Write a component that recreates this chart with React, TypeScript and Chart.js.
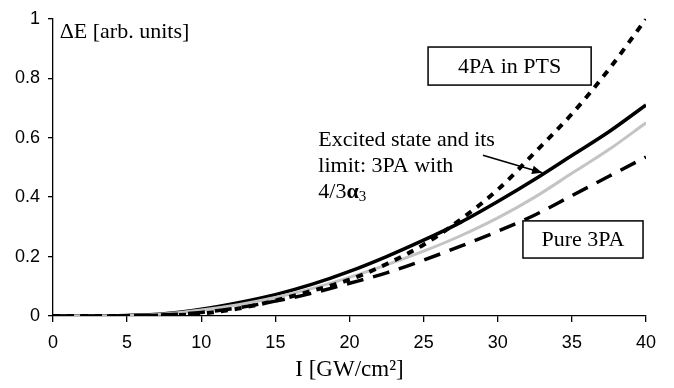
import React, { useEffect, useRef } from "react";
import { Chart, registerables } from "chart.js";

Chart.register(...registerables);

const intensity = [0, 2.5, 5, 7.5, 10, 12.5, 15, 17.5, 20, 22.5, 25, 27.5, 30, 32.5, 35, 37.5, 40];
const excitedState = [0, 0, 0.002, 0.008, 0.023, 0.045, 0.072, 0.107, 0.15, 0.2, 0.255, 0.315, 0.385, 0.46, 0.54, 0.62, 0.71];
const limit3PA = [0, 0, 0.002, 0.007, 0.02, 0.038, 0.062, 0.093, 0.13, 0.172, 0.218, 0.27, 0.33, 0.4, 0.48, 0.56, 0.65];
const pure3PA = [0, 0, 0.001, 0.004, 0.012, 0.028, 0.05, 0.077, 0.11, 0.145, 0.188, 0.235, 0.285, 0.34, 0.405, 0.47, 0.535];
const fourPA = [0, 0, 0, 0.002, 0.008, 0.025, 0.052, 0.085, 0.122, 0.175, 0.24, 0.325, 0.425, 0.55, 0.68, 0.83, 1.0];
const xTicksStep = 5;
const yTicksStep = 0.2;

const SERIF = "'Liberation Serif', 'Times New Roman', serif";
const SANS = "'Liberation Sans', Arial, sans-serif";
const TEXT_SIZE = 22;

const pts = (ys: number[]) => intensity.map((x, i) => ({ x, y: ys[i] }));

const annotationPlugin = {
  id: "annotations",
  afterDatasetsDraw(chart: any) {
    const { ctx, scales } = chart;
    const px = (v: number) => scales.x.getPixelForValue(v);
    const py = (v: number) => scales.y.getPixelForValue(v);
    ctx.save();
    ctx.fillStyle = "#000";
    ctx.strokeStyle = "#000";
    ctx.textBaseline = "middle";
    ctx.font = `${TEXT_SIZE}px ${SERIF}`;

    // y label
    ctx.textAlign = "left";
    ctx.fillText("ΔE [arb. units]", px(0.45), py(0.955));

    // boxes
    const box = (x0: number, x1: number, y0: number, y1: number, text: string) => {
      const l = px(x0), r = px(x1), t = py(y0), b = py(y1);
      ctx.fillStyle = "#fff";
      ctx.fillRect(l, t, r - l, b - t);
      ctx.lineWidth = 1.5;
      ctx.strokeRect(l, t, r - l, b - t);
      ctx.fillStyle = "#000";
      ctx.textAlign = "center";
      ctx.fillText(text, (l + r) / 2, (t + b) / 2 + 1);
    };
    box(25.3, 36.3, 0.905, 0.777, "4PA in PTS");
    box(31.7, 39.8, 0.32, 0.195, "Pure 3PA");

    // multi-line annotation
    ctx.textAlign = "left";
    const tx = px(17.9);
    ctx.fillText("Excited state and its", tx, py(0.59));
    ctx.fillText("limit: 3PA with", tx, py(0.503));
    const y3 = py(0.416);
    const pre = "4/3";
    ctx.fillText(pre, tx, y3);
    let cx = tx + ctx.measureText(pre).width;
    ctx.font = `bold ${TEXT_SIZE}px ${SERIF}`;
    ctx.fillText("α", cx, y3);
    cx += ctx.measureText("α").width;
    ctx.font = `15px ${SERIF}`;
    ctx.fillText("3", cx, y3 + 5);

    // arrow
    const ax0 = px(29.0), ay0 = py(0.541), ax1 = px(33.0), ay1 = py(0.482);
    ctx.lineWidth = 1.5;
    ctx.beginPath();
    ctx.moveTo(ax0, ay0);
    ctx.lineTo(ax1, ay1);
    ctx.stroke();
    const ang = Math.atan2(ay1 - ay0, ax1 - ax0);
    const hl = 11;
    ctx.beginPath();
    ctx.moveTo(ax1, ay1);
    ctx.lineTo(ax1 - hl * Math.cos(ang - 0.4), ay1 - hl * Math.sin(ang - 0.4));
    ctx.lineTo(ax1 - hl * Math.cos(ang + 0.4), ay1 - hl * Math.sin(ang + 0.4));
    ctx.closePath();
    ctx.fill();
    ctx.restore();
  },
};

export default function App() {
  const ref = useRef<HTMLCanvasElement | null>(null);
  useEffect(() => {
    if (!ref.current) return;
    const common = { pointRadius: 0, fill: false, cubicInterpolationMode: "monotone" as const, borderCapStyle: "butt" as const };
    const chart = new Chart(ref.current, {
      type: "line",
      data: {
        datasets: [
          { label: "4PA in PTS", data: pts(fourPA), borderColor: "#000", borderWidth: 4, borderDash: [7, 7], ...common },
          { label: "Pure 3PA", data: pts(pure3PA), borderColor: "#000", borderWidth: 3.5, borderDash: [17, 10], ...common },
          { label: "3PA with 4/3α3", data: pts(limit3PA), borderColor: "#c4c4c4", borderWidth: 3, ...common },
          { label: "Excited state", data: pts(excitedState), borderColor: "#000", borderWidth: 3.5, ...common },
        ],
      },
      options: {
        animation: false,
        responsive: true,
        maintainAspectRatio: false,
        layout: { padding: { top: 13, right: 28, left: 0, bottom: 0 } },
        plugins: { legend: { display: false }, tooltip: { enabled: false } },
        scales: {
          x: {
            type: "linear",
            min: 0,
            max: 40,
            ticks: { stepSize: xTicksStep, color: "#000", font: { family: SANS, size: 18 }, padding: 10, maxRotation: 0 },
            grid: { display: true, drawOnChartArea: false, tickLength: 6, color: "#000", lineWidth: 1.3 },
            border: { display: true, color: "#000", width: 1.3 },
            title: { display: true, text: "I [GW/cm²]", color: "#000", font: { family: SERIF, size: 23 }, padding: { top: 2, bottom: 4 } },
            afterFit: (s: any) => { s.height = 72; },
          },
          y: {
            min: 0,
            max: 1,
            ticks: {
              stepSize: yTicksStep,
              color: "#000",
              font: { family: SANS, size: 18 },
              padding: 8,
              callback: (v: any) => String(Math.round(Number(v) * 10) / 10),
            },
            grid: { display: true, drawOnChartArea: false, tickLength: 5, color: "#000", lineWidth: 1.3 },
            border: { display: true, color: "#000", width: 1.3 },
            afterFit: (s: any) => { s.width = 53; },
          },
        },
      },
      plugins: [annotationPlugin],
    });
    return () => chart.destroy();
  }, []);
  return (
    <div style={{ position: "absolute", left: 0, top: 0, width: 674, height: 388, background: "#fff" }}>
      <canvas ref={ref} />
    </div>
  );
}
